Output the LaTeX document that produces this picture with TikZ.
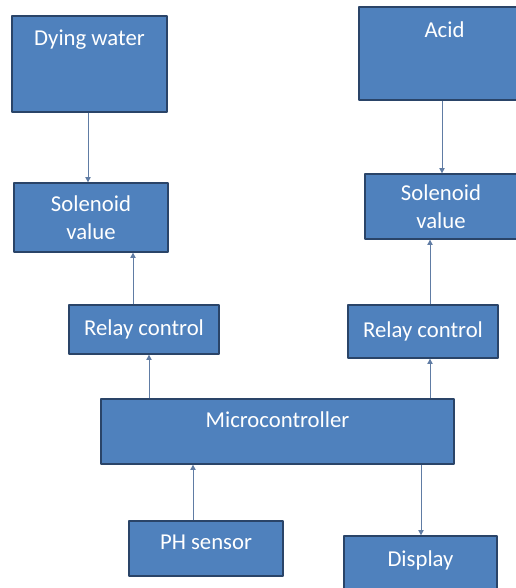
\documentclass[tikz,border=0pt]{standalone}
\usepackage{fontspec}
\setmainfont{Carlito}
\usetikzlibrary{arrows.meta}
\definecolor{boxfill}{RGB}{79,129,189}
\definecolor{boxline}{RGB}{42,68,104}
\definecolor{linkline}{RGB}{96,124,164}
\begin{document}
\begin{tikzpicture}[x=0.3mm,y=-0.3mm,line join=round,
	blk/.style 2 args={draw=boxline,line width=1.1pt,fill=boxfill,text=white,
		font=\fontsize{19.4}{24}\selectfont,align=center,inner sep=0pt,
		minimum width=#1*0.3mm,minimum height=#2*0.3mm},
	txt/.style={text=white,font=\fontsize{19.4}{24}\selectfont,anchor=center,inner sep=0pt},
	link/.style={draw=linkline,line width=0.8pt,-{Triangle[length=4.5pt,width=4.5pt]}}]
	  \useasboundingbox (0,0) rectangle (516,588);
	  \node[blk={155}{96},label={[txt,yshift=24.5*0.3mm]center:Dying water}] (water) at (89.5,64) {};
	  \node[blk={171}{93},label={[txt,yshift=23.5*0.3mm]center:Acid}] (acid) at (444.5,53.5) {};
	  \node[blk={154}{69}] (solL) at (91,217.5) {Solenoid\\value};
	  \node[blk={152}{65}] (solR) at (441,206.5) {Solenoid\\value};
	  \node[blk={150}{49}] (relL) at (144,329.5) {Relay control};
	  \node[blk={150}{53}] (relR) at (423,331.5) {Relay control};
	  \node[blk={353}{65},label={[txt,yshift=11.5*0.3mm]center:Microcontroller}] (micro) at (277.5,431.5) {};
	  \node[blk={154}{55},label={[txt,yshift=6*0.3mm]center:PH sensor}] (ph) at (206,548.5) {};
	  \node[blk={153}{60},label={[txt,yshift=6*0.3mm]center:Display}] (disp) at (420.5,566) {};
	  % downward links
	  \foreach \s/\t/\x in {water/solL/88,acid/solR/442,micro/disp/421}{
	      \draw[link] (\x,0 |- \s.south) -- (\x,0 |- \t.north);
	  }
	  % upward links
	  \foreach \s/\t/\x in {relL/solL/133,micro/relL/149,relR/solR/430,micro/relR/430,ph/micro/193}{
	      \draw[link] (\x,0 |- \s.north) -- (\x,0 |- \t.south);
	  }
\end{tikzpicture}
\end{document}
